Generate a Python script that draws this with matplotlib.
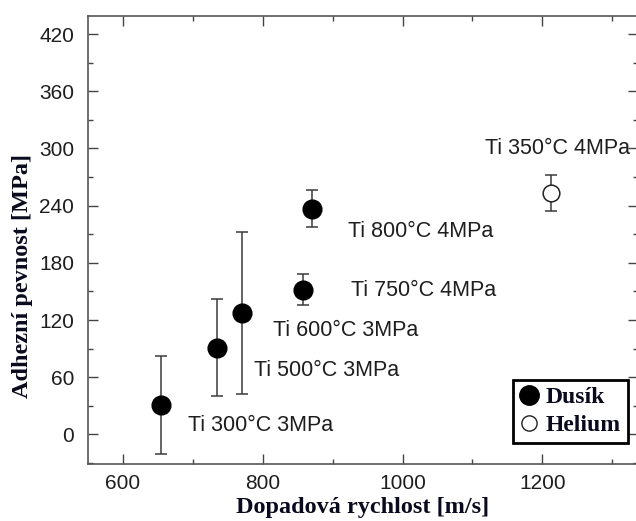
import matplotlib.pyplot as plt
from matplotlib.ticker import MultipleLocator
from matplotlib.lines import Line2D

# data
labels = ["Ti 300°C 3MPa", "Ti 500°C 3MPa", "Ti 600°C 3MPa",
          "Ti 750°C 4MPa", "Ti 800°C 4MPa"]
speed_n2 = [654, 734, 771, 858, 870]
strength_n2 = [31, 91, 127, 152, 237]
err_n2 = [51, 51, 85, 16, 19]

label_he = "Ti 350°C 4MPa"
speed_he = [1212]
strength_he = [253]
err_he = [19]

# label anchor points (data coords)
label_x = [693, 787, 814, 927, 922]
label_y = [9, 67, 109, 151, 213]
label_he_xy = (1222, 300)

fig = plt.figure(figsize=(6.36, 5.21), dpi=100)
ax = fig.add_axes([0.1384, 0.1094, 0.8648, 0.8599])

ecol = "#3a3a3a"
ax.errorbar(speed_n2, strength_n2, yerr=err_n2, fmt="o", ms=13.5,
            mfc="black", mec="black", ecolor=ecol, elinewidth=1.1,
            capsize=4.3, capthick=1.1, zorder=3)
ax.errorbar(speed_he, strength_he, yerr=err_he, fmt="o", ms=12,
            mfc="white", mec="#222222", mew=1.1, ecolor=ecol, elinewidth=1.1,
            capsize=4.3, capthick=1.1, zorder=3)

for t, x, y in zip(labels, label_x, label_y):
    ax.text(x, y, t, fontsize=15.5, color="#1e1e1e", va="center", ha="left",
            family="Liberation Sans")
ax.text(label_he_xy[0], label_he_xy[1], label_he, fontsize=15.5, color="#1e1e1e",
        va="center", ha="center", family="Liberation Sans")

ax.set_xlim(550, 1337)
ax.set_ylim(-31, 439)
ax.xaxis.set_major_locator(MultipleLocator(200))
ax.xaxis.set_minor_locator(MultipleLocator(100))
ax.yaxis.set_major_locator(MultipleLocator(60))
ax.yaxis.set_minor_locator(MultipleLocator(30))
ax.tick_params(which="both", direction="in", top=True, right=True,
               color="#444444", width=1)
ax.tick_params(which="major", length=7, labelsize=15, labelcolor="#1e1e1e")
ax.tick_params(axis="x", which="major", pad=7)
ax.tick_params(axis="y", which="major", pad=10)
ax.tick_params(which="minor", length=3.5)
for lab in ax.get_xticklabels() + ax.get_yticklabels():
    lab.set_family("Liberation Sans")
for s in ax.spines.values():
    s.set_color("#555555")
    s.set_linewidth(1.2)

lab_font = dict(family="Liberation Serif", weight="bold", size=17.5, color="#0a0a1e")
ax.set_xlabel("Dopadová rychlost [m/s]", labelpad=3, **lab_font)
ax.set_ylabel("Adhezní pevnost [MPa]", **lab_font)
ax.yaxis.set_label_coords(-0.1, 0.42)

handles = [
    Line2D([], [], ls="none", marker="o", ms=14, mfc="black", mec="black"),
    Line2D([], [], ls="none", marker="o", ms=11, mfc="white", mec="#222222", mew=1),
]
leg = ax.legend(handles, ["Dusík", "Helium"], loc="lower right",
                bbox_to_anchor=(0.982, 0.047), borderaxespad=0,
                fancybox=False, framealpha=1, edgecolor="black",
                handlelength=0.8, handletextpad=0.3, borderpad=0.3,
                labelspacing=0.25,
                prop=dict(family="Liberation Serif", weight="bold", size=17))
leg.get_frame().set_linewidth(2)
for t in leg.get_texts():
    t.set_color("#0a0a1e")

fig.savefig("out.png", dpi=100)
